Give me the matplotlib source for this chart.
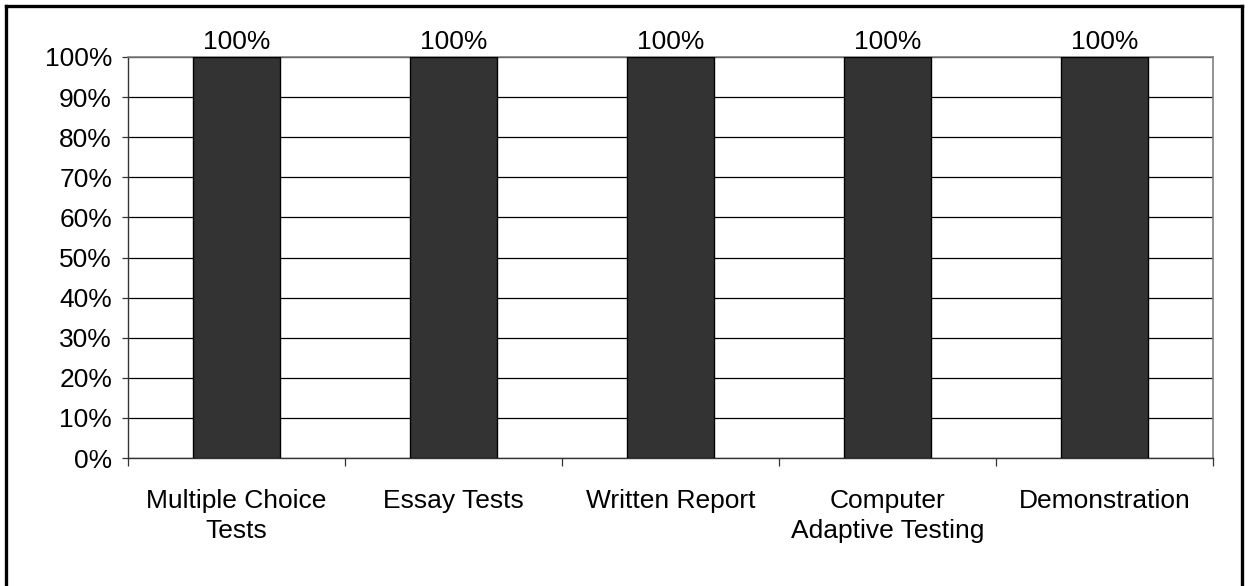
import matplotlib
matplotlib.use("Agg")
import matplotlib.pyplot as plt
from matplotlib.lines import Line2D
from matplotlib.ticker import FuncFormatter

categories = ["Multiple Choice\nTests", "Essay Tests", "Written Report",
              "Computer\nAdaptive Testing", "Demonstration"]
values = [100, 100, 100, 100, 100]
bar_labels = ["100%", "100%", "100%", "100%", "100%"]

plt.rcParams["font.family"] = ["Liberation Sans", "DejaVu Sans"]
plt.rcParams["font.size"] = 19

W, H = 1249, 586
fig = plt.figure(figsize=(W / 100, H / 100), dpi=100)
ax = fig.add_axes([128 / W, 1 - 458 / H, (1213 - 128) / W, (458 - 57) / H])

x = list(range(len(categories)))
bars = ax.bar(x, values, width=0.40, color="#333333",
              edgecolor="black", linewidth=1.0, zorder=3)
ax.bar_label(bars, labels=bar_labels, padding=2, fontsize=19)

ax.set_xlim(-0.5, len(categories) - 0.5)
ax.set_ylim(0, 100)
ax.set_yticks(range(0, 101, 10))
ax.yaxis.set_major_formatter(FuncFormatter(lambda v, p: f"{v:.0f}%"))
ax.yaxis.grid(True, color="black", linewidth=0.9, zorder=0)
ax.set_axisbelow(True)

# category boundaries get the tick marks, labels sit between them
ax.set_xticks([i - 0.5 for i in range(len(categories) + 1)])
ax.set_xticklabels([])
ax.set_xticks(x, minor=True)
ax.set_xticklabels(categories, minor=True, linespacing=1.35)
ax.tick_params(axis="x", which="major", direction="out", length=6,
               width=0.9, color="#333333")
ax.tick_params(axis="x", which="minor", length=0, pad=22)
ax.tick_params(axis="y", direction="out", length=4.5, width=0.9,
               color="#333333", pad=7)

for side in ("top", "right"):
    ax.spines[side].set_color("#808080")
    ax.spines[side].set_linewidth(1.2)
for side in ("left", "bottom"):
    ax.spines[side].set_color("#333333")
    ax.spines[side].set_linewidth(1.0)

# frame around the whole chart (open at the bottom)
lw = 2.4
fig.add_artist(Line2D([6 / W, 6 / W], [0, 1 - 6 / H], color="black", lw=lw))
fig.add_artist(Line2D([1242 / W, 1242 / W], [0, 1 - 6 / H], color="black", lw=lw))
fig.add_artist(Line2D([6 / W, 1242 / W], [1 - 6 / H, 1 - 6 / H], color="black", lw=lw))

fig.savefig("out.png", dpi=100, facecolor="white")
